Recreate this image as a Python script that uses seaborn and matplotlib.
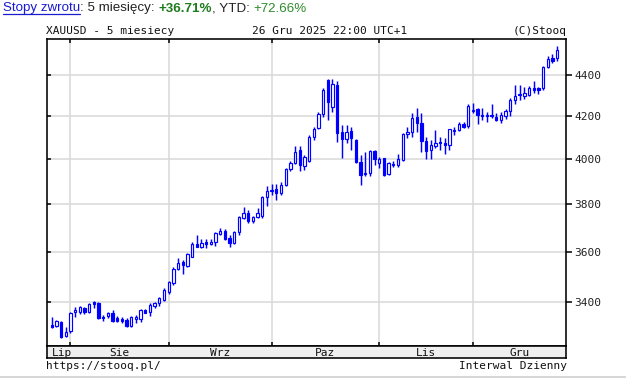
import matplotlib
matplotlib.use("Agg")
import matplotlib.pyplot as plt
import seaborn as sns
import numpy as np
from matplotlib.lines import Line2D
from matplotlib.ticker import FixedLocator, NullLocator, FuncFormatter

sns.set_style("white")
plt.rcParams['font.family'] = ['DejaVu Sans Mono']

# ---------------- data (daily OHLC, XAUUSD, 28 Jul - 26 Dec 2025) ----------------
opens = [3312,3308,3325,3270,3288,3360,3363,3376,3363,3401,
         3397,3343,3346,3356,3337,3333,3331,3309,3335,3333,
         3368,3360,3386,3395,3408,3437,3473,3531,3558,3540,
         3580,3631,3618,3640,3631,3641,3675,3686,3658,3637,
         3680,3739,3763,3727,3745,3749,3830,3855,3866,3850,
         3884,3953,3980,4041,3970,3990,4101,4142,4209,4376,
         4244,4351,4126,4090,4130,4085,3987,3938,3935,4036,
         3981,4004,3931,3973,3971,3995,4113,4126,4193,4165,
         4081,4041,4060,4078,4074,4064,4130,4134,4162,4153,
         4224,4232,4207,4205,4205,4193,4179,4200,4225,4277,
         4299,4298,4302,4334,4334,4334,4441,4484,4484]
highs = [3343,3331,3328,3305,3360,3382,3385,3382,3397,3405,
         3399,3350,3362,3369,3345,3343,3339,3346,3350,3372,
         3372,3395,3401,3420,3454,3480,3536,3575,3568,3595,
         3641,3669,3653,3651,3653,3680,3697,3693,3668,3685,
         3747,3789,3775,3748,3782,3837,3877,3886,3887,3895,
         3960,3992,4057,4057,4018,4110,4149,4220,4334,4380,
         4380,4372,4157,4157,4149,4093,4018,4033,4041,4041,
         4010,4004,3988,3992,4023,4118,4149,4213,4240,4213,
         4101,4085,4134,4101,4097,4140,4149,4170,4170,4256,
         4264,4240,4237,4221,4258,4213,4221,4232,4285,4351,
         4351,4343,4345,4368,4343,4448,4496,4506,4548]
lows = [3299,3305,3264,3268,3282,3344,3354,3354,3358,3376,
        3335,3328,3337,3324,3322,3320,3305,3305,3318,3324,
        3356,3346,3378,3385,3405,3432,3466,3524,3510,3537,
        3577,3619,3615,3613,3627,3624,3669,3648,3620,3630,
        3670,3735,3718,3718,3740,3740,3791,3840,3818,3840,
        3877,3945,3977,3946,3950,3987,4087,4137,4197,4183,
        4219,4078,4005,4075,4041,3980,3884,3924,3924,3973,
        3960,3924,3928,3963,3965,3990,4095,4101,4126,4033,
        3999,4000,4050,4041,4023,4041,4110,4130,4144,4144,
        4213,4162,4181,4173,4189,4178,4169,4186,4200,4258,
        4277,4280,4297,4310,4307,4327,4434,4460,4472]
closes = [3303,3327,3268,3286,3356,3369,3380,3360,3392,3392,
          3337,3337,3356,3328,3328,3326,3309,3343,3343,3369,
          3359,3388,3395,3414,3447,3476,3531,3554,3545,3590,
          3631,3621,3635,3631,3640,3676,3686,3653,3637,3680,
          3743,3763,3727,3743,3760,3830,3855,3862,3850,3884,
          3953,3980,4033,3973,4009,4101,4137,4209,4326,4265,
          4356,4118,4090,4126,4095,3985,3928,3931,4036,3999,
          3999,3928,3980,3976,3999,4113,4126,4189,4165,4084,
          4036,4064,4071,4071,4064,4137,4134,4162,4149,4248,
          4229,4205,4198,4198,4198,4181,4205,4225,4277,4296,
          4308,4310,4337,4326,4326,4441,4480,4472,4525]

month_labels = ["Lip", "Sie", "Wrz", "Paz", "Lis", "Gru"]
month_start = [0, 4, 25, 47, 70, 90]          # index of first trading day of each month
price_ticks = [3400, 3600, 3800, 4000, 4200, 4400]

# ---------------- layout ----------------
W, H = 626, 378
fig = plt.figure(figsize=(W / 100, H / 100), dpi=100)
fig.patch.set_facecolor("white")

def fx(px):
    return px / W

def fy(py):
    return 1 - py / H

L, R, T, B = 47, 566, 39, 346
XMIN, XMAX = -1.0, 109.9
YMIN, YMAX = 3234, 4584
BLUE = "#0000ff"

ax = fig.add_axes([fx(L), fy(B), fx(R) - fx(L), fy(T) - fy(B)])
ax.set_facecolor("white")

o = np.array(opens, float); h = np.array(highs, float)
l = np.array(lows, float); c = np.array(closes, float)
x = np.arange(len(o))
up = c >= o
bot = np.minimum(o, c)
hgt = np.maximum(np.abs(c - o), bot * 0.0006)

ax.vlines(x, l, h, color=BLUE, lw=1.05, zorder=3)
ax.bar(x[up], hgt[up], bottom=bot[up], width=0.5, color="white",
       edgecolor=BLUE, linewidth=0.85, zorder=4)
ax.bar(x[~up], hgt[~up], bottom=bot[~up], width=0.5, color=BLUE,
       edgecolor=BLUE, linewidth=0.85, zorder=4)

ax.set_yscale("log")
ax.set_ylim(YMIN, YMAX)
ax.set_xlim(XMIN, XMAX)
ax.yaxis.set_major_locator(FixedLocator(price_ticks))
ax.yaxis.set_minor_locator(NullLocator())
ax.xaxis.set_major_locator(FixedLocator(month_start[1:]))
ax.grid(True, color="#d8d8d8", lw=1.1, zorder=0)
ax.set_axisbelow(True)
ax.tick_params(axis="both", which="major", direction="in", length=3, width=1.1,
               color="black", top=True, bottom=True, left=True, right=False,
               labelbottom=False, labelleft=False)
for s in ax.spines.values():
    s.set_color("black")
    s.set_linewidth(1.15)
    s.set_visible(True)

ax2 = ax.twinx()
ax2.set_yscale("log")
ax2.set_ylim(YMIN, YMAX)
ax2.yaxis.set_major_locator(FixedLocator(price_ticks))
ax2.yaxis.set_minor_locator(NullLocator())
ax2.yaxis.set_major_formatter(FuncFormatter(lambda v, p: f"{int(round(v))}"))
ax2.tick_params(axis="y", which="major", direction="out", length=4, width=1.1,
                color="black", labelsize=8, pad=2, labelcolor="#222222")
for s in ax2.spines.values():
    s.set_visible(False)

# month band
bax = fig.add_axes([fx(L), fy(358), fx(R) - fx(L), fy(B) - fy(358)])
bax.set_facecolor("#efefef")
bax.set_xlim(XMIN, XMAX)
bax.set_ylim(0, 1)
bax.set_xticks([]); bax.set_yticks([])
for s in bax.spines.values():
    s.set_color("black")
    s.set_linewidth(1.15)
bounds = month_start[1:] + [XMAX]
for i, lab in enumerate(month_labels):
    if i == 0:
        xc = 2.3
    else:
        xc = (month_start[i] + bounds[i]) / 2
    bax.text(xc, 0.45, lab, ha="center", va="center", fontsize=8, color="#111111")

# header texts
fig.text(fx(46), fy(31), "XAUUSD - 5 miesiecy", ha="left", va="center", fontsize=8, color="#111111")
fig.text(fx(330), fy(31), "26 Gru 2025 22:00 UTC+1", ha="center", va="center", fontsize=8, color="#111111")
fig.text(fx(567), fy(31), "(C)Stooq", ha="right", va="center", fontsize=8, color="#111111")

# footer texts
fig.text(fx(46), fy(366), "https://stooq.pl/", ha="left", va="center", fontsize=8, color="#111111")
fig.text(fx(567), fy(366), "Interwal Dzienny", ha="right", va="center", fontsize=8, color="#111111")
fig.add_artist(Line2D([0, 1], [fy(376.5), fy(376.5)], transform=fig.transFigure,
                      color="#d0d0d0", lw=1.2))

# title line with mixed styles
renderer = fig.canvas.get_renderer()
pieces = [("Stopy zwrotu", "#1a1ad0", "normal"),
          (": 5 miesięcy: ", "#222222", "normal"),
          ("+36.71%", "#1d7a1d", "bold"),
          (", YTD: ", "#222222", "normal"),
          ("+72.66%", "#2e8b2e", "normal")]
xpos = 3.0
for k, (txt, col, wt) in enumerate(pieces):
    t = fig.text(fx(xpos), fy(8.5), txt, ha="left", va="center", fontsize=9.6,
                 color=col, fontweight=wt, family=["Liberation Sans", "DejaVu Sans"])
    bb = t.get_window_extent(renderer=renderer)
    if k == 0:
        fig.add_artist(Line2D([bb.x0 / W, bb.x1 / W], [fy(14), fy(14)],
                              transform=fig.transFigure, color=col, lw=0.9))
    xpos = bb.x1

fig.savefig("out.png", dpi=100, facecolor="white")
